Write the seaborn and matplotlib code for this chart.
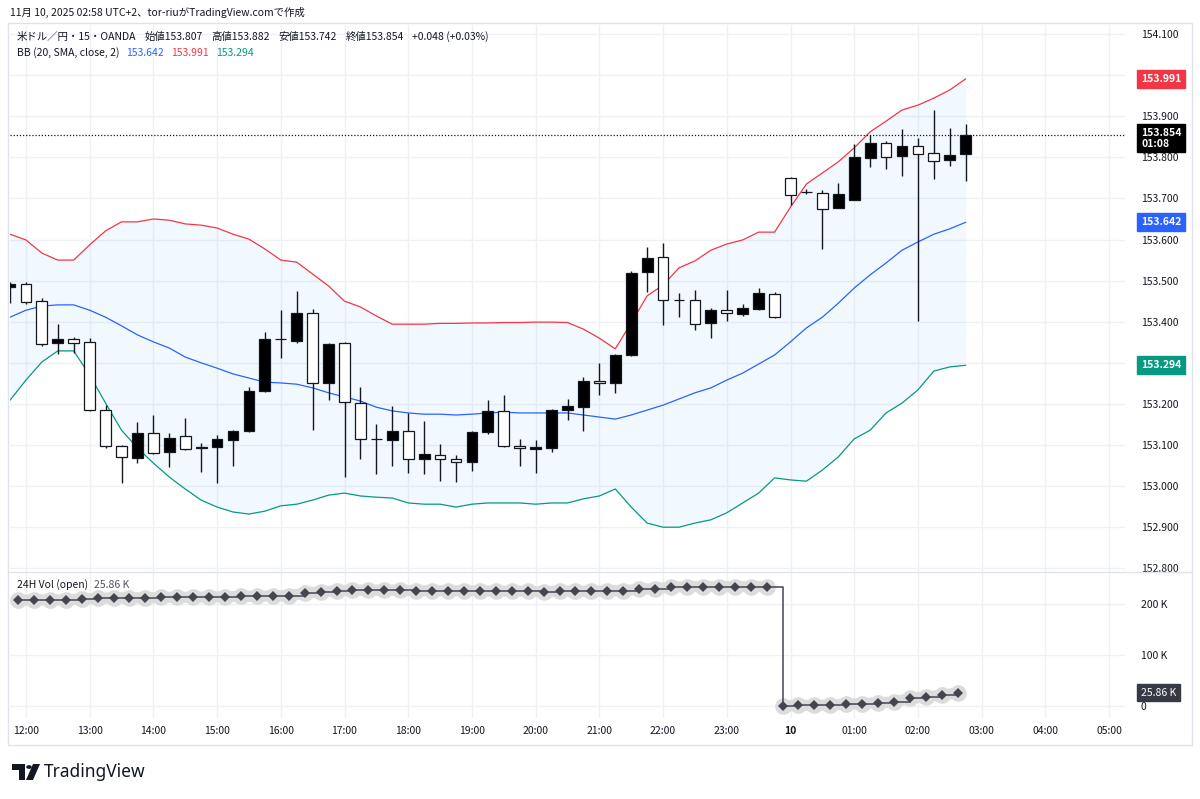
import numpy as np
import matplotlib
matplotlib.use('Agg')
import matplotlib.pyplot as plt
import seaborn as sns
from matplotlib.ticker import FormatStrFormatter
from matplotlib.transforms import blended_transform_factory, offset_copy, Bbox, TransformedBbox
from matplotlib.patches import Rectangle, Polygon, Circle
from matplotlib.lines import Line2D

# USD/JPY 15 min bars, 11:45 -> 02:45 (UTC+2)
opens = [153.484, 153.492, 153.450, 153.348, 153.358, 153.351, 153.185, 153.098, 153.068, 153.129,
         153.083, 153.122, 153.094, 153.095, 153.112, 153.134, 153.231, 153.358, 153.353, 153.421,
         153.251, 153.348, 153.202, 153.115, 153.112, 153.134, 153.066, 153.076, 153.066, 153.059,
         153.132, 153.183, 153.098, 153.090, 153.093, 153.185, 153.192, 153.256, 153.251, 153.319,
         153.521, 153.557, 153.453, 153.453, 153.397, 153.428, 153.419, 153.431, 153.467, 153.750,
         153.716, 153.713, 153.677, 153.696, 153.798, 153.835, 153.803, 153.827, 153.810, 153.793,
         153.807]
highs = [153.497, 153.497, 153.458, 153.394, 153.363, 153.360, 153.197, 153.100, 153.156, 153.173,
         153.129, 153.166, 153.105, 153.124, 153.136, 153.241, 153.375, 153.428, 153.475, 153.431,
         153.348, 153.351, 153.241, 153.151, 153.195, 153.178, 153.158, 153.102, 153.076, 153.134,
         153.209, 153.222, 153.115, 153.112, 153.187, 153.212, 153.265, 153.300, 153.321, 153.523,
         153.582, 153.591, 153.470, 153.477, 153.433, 153.477, 153.443, 153.482, 153.472, 153.752,
         153.723, 153.720, 153.737, 153.832, 153.854, 153.840, 153.869, 153.847, 153.915, 153.871,
         153.882]
lows = [153.445, 153.443, 153.341, 153.321, 153.324, 153.183, 153.093, 153.008, 153.056, 153.078,
        153.046, 153.088, 153.034, 153.008, 153.049, 153.132, 153.229, 153.312, 153.348, 153.136,
        153.209, 153.022, 153.066, 153.029, 153.049, 153.032, 153.029, 153.012, 153.010, 153.037,
        153.127, 153.095, 153.049, 153.032, 153.083, 153.161, 153.134, 153.222, 153.227, 153.317,
        153.472, 153.392, 153.411, 153.380, 153.360, 153.402, 153.414, 153.428, 153.409, 153.684,
        153.711, 153.577, 153.677, 153.696, 153.776, 153.772, 153.754, 153.402, 153.747, 153.779,
        153.742]
closes = [153.492, 153.448, 153.346, 153.358, 153.348, 153.185, 153.098, 153.071, 153.129, 153.081,
          153.117, 153.090, 153.092, 153.115, 153.134, 153.231, 153.358, 153.357, 153.421, 153.251,
          153.346, 153.205, 153.115, 153.114, 153.134, 153.066, 153.078, 153.066, 153.059, 153.132,
          153.183, 153.098, 153.093, 153.095, 153.185, 153.195, 153.256, 153.251, 153.319, 153.518,
          153.555, 153.453, 153.452, 153.394, 153.428, 153.421, 153.433, 153.470, 153.411, 153.708,
          153.715, 153.674, 153.711, 153.801, 153.835, 153.801, 153.827, 153.808, 153.791, 153.806,
          153.854]

# Bollinger bands (20, SMA, close, 2)
bb_upper = [153.613, 153.599, 153.567, 153.550, 153.550, 153.587, 153.621, 153.643, 153.643, 153.650,
            153.647, 153.638, 153.635, 153.628, 153.613, 153.601, 153.577, 153.550, 153.545, 153.516,
            153.487, 153.450, 153.436, 153.414, 153.394, 153.394, 153.394, 153.396, 153.396, 153.397,
            153.397, 153.398, 153.398, 153.399, 153.399, 153.398, 153.382, 153.360, 153.334, 153.397,
            153.463, 153.489, 153.531, 153.548, 153.574, 153.589, 153.599, 153.618, 153.618, 153.679,
            153.735, 153.762, 153.789, 153.823, 153.862, 153.888, 153.915, 153.927, 153.944, 153.964,
            153.991]
bb_basis = [153.411, 153.428, 153.438, 153.441, 153.441, 153.428, 153.411, 153.390, 153.368, 153.351,
            153.336, 153.314, 153.300, 153.287, 153.273, 153.263, 153.253, 153.251, 153.248, 153.239,
            153.227, 153.217, 153.207, 153.192, 153.183, 153.178, 153.175, 153.175, 153.173, 153.175,
            153.178, 153.180, 153.178, 153.178, 153.178, 153.178, 153.173, 153.168, 153.163, 153.173,
            153.185, 153.197, 153.212, 153.227, 153.239, 153.258, 153.275, 153.297, 153.319, 153.351,
            153.385, 153.411, 153.445, 153.482, 153.514, 153.543, 153.574, 153.594, 153.613, 153.626,
            153.642]
bb_lower = [153.209, 153.258, 153.302, 153.329, 153.329, 153.270, 153.202, 153.136, 153.093, 153.056,
            153.022, 152.993, 152.966, 152.949, 152.937, 152.932, 152.939, 152.952, 152.956, 152.966,
            152.978, 152.983, 152.976, 152.973, 152.971, 152.959, 152.956, 152.956, 152.949, 152.956,
            152.959, 152.959, 152.959, 152.956, 152.959, 152.959, 152.969, 152.976, 152.993, 152.949,
            152.910, 152.900, 152.900, 152.910, 152.918, 152.935, 152.959, 152.983, 153.020, 153.015,
            153.012, 153.039, 153.071, 153.115, 153.136, 153.178, 153.202, 153.234, 153.280, 153.290,
            153.294]

# 24H Vol (open), in K, plotted half a bar to the right of each candle
vol_24h = [208, 208, 208, 208, 210, 211, 212, 212, 212, 213, 213, 213, 214, 214, 215, 215,
           216, 216, 221, 224, 226, 227, 227, 227, 227, 226, 226, 226, 226, 226, 225, 225,
           225, 224, 225, 225, 225, 226, 226, 229, 230, 233, 234, 234, 234, 234, 234, 234,
           0.3, 1.2, 1.4, 2.0, 3.3, 4.6, 6.5, 7.8, 15.0, 18.0, 21.0, 25.86]

hour_labels = ['12:00', '13:00', '14:00', '15:00', '16:00', '17:00', '18:00', '19:00', '20:00',
               '21:00', '22:00', '23:00', '10', '01:00', '02:00', '03:00', '04:00', '05:00']

sns.set_theme(style='white')
plt.rcParams['font.family'] = ['Noto Sans CJK JP', 'DejaVu Sans']
plt.rcParams['axes.unicode_minus'] = False

TXT = '#131722'
RED = '#f23645'
BLUE = '#2962ff'
GREEN = '#089981'
GRID = '#eef0f4'

W, H = 1200, 799
def fx(px):
    return px / W
def fy(py):
    return 1 - py / H

o = np.array(opens); h = np.array(highs); l = np.array(lows); c = np.array(closes)
idx = np.arange(len(o))

fig = plt.figure(figsize=(12, 7.99), dpi=100)
ax = fig.add_axes([fx(10), fy(572), 1115 / W, 547 / H])
axv = fig.add_axes([fx(10), fy(718), 1115 / W, 146 / H])

# bands
ax.fill_between(idx, bb_lower, bb_upper, color='#2196f3', alpha=0.055, lw=0, zorder=1)
sns.lineplot(x=idx, y=bb_upper, ax=ax, color=RED, lw=0.9, zorder=2)
sns.lineplot(x=idx, y=bb_basis, ax=ax, color=BLUE, lw=0.9, zorder=2)
sns.lineplot(x=idx, y=bb_lower, ax=ax, color=GREEN, lw=0.9, zorder=2)

# candles: black = up, white = down
up = c >= o
ax.vlines(idx, l, h, color=TXT, lw=1.0, zorder=3)
ax.bar(idx, np.maximum(np.abs(c - o), 0.0008), bottom=np.minimum(o, c), width=0.68,
       color=np.where(up, '#000000', '#ffffff'), edgecolor=TXT, linewidth=0.9, zorder=4)

ax.axhline(c[-1], color=TXT, ls=(0, (1, 1.5)), lw=0.9, zorder=5)

ax.set_xlim(0, 70)
ax.set_ylim(152.791, 154.122)
ax.set_yticks(np.round(np.arange(152.8, 154.15, 0.1), 1))
ax.yaxis.set_major_formatter(FormatStrFormatter('%.3f'))
ax.set_xticks(np.arange(1, 70, 4))
ax.tick_params(axis='x', labelbottom=False, length=0)
ax.tick_params(axis='y', left=False, labelleft=False, right=False, labelright=True,
               length=0, pad=11.5, labelsize=7.5, labelcolor=TXT)
ax.grid(True, color=GRID, lw=1)
ax.set_axisbelow(True)
ax.set_xlabel(''); ax.set_ylabel('')
for s in ax.spines.values():
    s.set_visible(False)

# right-side value tags
tr = blended_transform_factory(ax.transAxes, ax.transData)
tag_x = (1141 - 10) / 1115
tags = [(bb_upper[-1], RED), (bb_basis[-1], BLUE), (bb_lower[-1], GREEN)]
for val, col in tags:
    ax.text(tag_x, val, f'{val:.3f}', transform=tr, color='white', fontsize=7.5, fontweight='bold',
            va='center', ha='left', clip_on=False, zorder=10,
            bbox=dict(boxstyle='square,pad=0.38', fc=col, ec=col))
ax.text(tag_x, c[-1], f'{c[-1]:.3f}\n01:08', transform=offset_copy(tr, fig, y=7, units='dots'),
        color='white', fontsize=7.5, fontweight='bold', va='top', ha='left', linespacing=1.05,
        clip_on=False, zorder=10, bbox=dict(boxstyle='square,pad=0.38', fc='#000000', ec='#000000'))

# volume pane
vol = np.array(vol_24h)
vx = np.arange(len(vol)) + 0.5
cut = int(np.argmin(np.diff(vol))) + 1
for seg in (slice(0, cut), slice(cut, None)):
    axv.plot(vx[seg], vol[seg], color='#dcdcdc', lw=8, marker='o', ms=12, mew=0,
             solid_capstyle='round', zorder=2)
sns.lineplot(x=vx, y=vol, ax=axv, color='#434651', lw=1.1, drawstyle='steps-post',
             marker='D', markersize=5.5, markeredgewidth=0, zorder=3)

axv.set_xlim(0, 70)
axv.set_ylim(-23.5, 262.7)
axv.set_yticks([0, 100, 200])
axv.set_yticklabels(['0', '100 K', '200 K'])
axv.set_xticks(np.arange(1, 70, 4))
axv.set_xticklabels(hour_labels)
axv.tick_params(axis='y', left=False, labelleft=False, right=False, labelright=True,
                length=0, pad=11.5, labelsize=7.5, labelcolor=TXT)
axv.tick_params(axis='x', length=0, pad=6, labelsize=7.5, labelcolor=TXT)
for t in axv.get_xticklabels():
    if t.get_text() == '10':
        t.set_fontweight('bold')
axv.grid(True, color=GRID, lw=1)
axv.set_axisbelow(True)
axv.set_xlabel(''); axv.set_ylabel('')
for s in axv.spines.values():
    s.set_visible(False)

trv = blended_transform_factory(axv.transAxes, axv.transData)
axv.text(tag_x, vol[-1], f'{vol[-1]:.2f} K', transform=trv, color='white', fontsize=7.5,
         va='center', ha='left', clip_on=False, zorder=10,
         bbox=dict(boxstyle='square,pad=0.35', fc='#363a45', ec='#363a45'))

# frame and pane separator
fig.patches.append(Rectangle((fx(8), fy(745)), 1184 / W, 722 / H, transform=fig.transFigure,
                             fill=False, ec='#e0e3eb', lw=1))
fig.lines.append(Line2D([fx(8), fx(1192)], [fy(572), fy(572)], transform=fig.transFigure,
                        color='#e0e3eb', lw=1))

# header texts, laid out one after another
fig.text(fx(10), fy(12), '11月 10, 2025 02:58 UTC+2、tor-riuがTradingView.comで作成',
         fontsize=7.5, va='center', color=TXT)
renderer = fig.canvas.get_renderer()

def text_row(x0, y, parts, gap=7):
    x = x0
    for s, col in parts:
        t = fig.text(fx(x), fy(y), s, fontsize=7.5, va='center', color=col)
        x = t.get_window_extent(renderer).x1 + gap

chg = c[-1] - c[-2]
text_row(17, 37, [('米ドル／円・15・OANDA', TXT), (f'始値{o[-1]:.3f}', TXT), (f'高値{h[-1]:.3f}', TXT),
                  (f'安値{l[-1]:.3f}', TXT), (f'終値{c[-1]:.3f}', TXT),
                  (f'{chg:+.3f} ({chg / c[-2] * 100:+.2f}%)', TXT)], gap=8.5)
text_row(17, 53, [('BB (20, SMA, close, 2)', TXT), (f'{bb_basis[-1]:.3f}', BLUE),
                  (f'{bb_upper[-1]:.3f}', RED), (f'{bb_lower[-1]:.3f}', GREEN)], gap=7)
text_row(17, 585, [('24H Vol (open)', TXT), (f'{vol[-1]:.2f} K', '#50535e')], gap=6)

# TradingView logo
fig.patches.append(Polygon([(fx(12), fy(764)), (fx(25), fy(764)), (fx(25), fy(780)), (fx(19), fy(780)),
                            (fx(19), fy(770)), (fx(12), fy(770))], closed=True,
                           transform=fig.transFigure, fc='#131722', ec='none'))
fig.patches.append(Circle((fx(29), fy(767)), 2.8 / W, transform=fig.transFigure, fc='#131722', ec='none'))
fig.patches.append(Polygon([(fx(33), fy(764)), (fx(40), fy(764)), (fx(33), fy(780)), (fx(26), fy(780))],
                           closed=True, transform=fig.transFigure, fc='#131722', ec='none'))
fig.text(fx(44), fy(772), 'TradingView', fontsize=12.5, fontweight='bold', va='center',
         color='#131722', family=['Noto Sans', 'DejaVu Sans'])

# price labels covered by the tags, and the half-hidden bottom label
fig.canvas.draw()
clip = TransformedBbox(Bbox([[0, fy(572)], [1, 1]]), fig.transFigure)
tag_vals = [round(v, 1) for v, _ in tags]
for t, loc in zip(ax.yaxis.get_major_ticks(), ax.get_yticks()):
    t.label2.set_clip_box(clip)
    t.label2.set_clip_on(True)
    if round(loc, 1) in tag_vals and abs(loc - [v for v, _ in tags][tag_vals.index(round(loc, 1))]) < 0.012:
        t.label2.set_visible(False)

fig.savefig('out.png', dpi=100, facecolor='white')
